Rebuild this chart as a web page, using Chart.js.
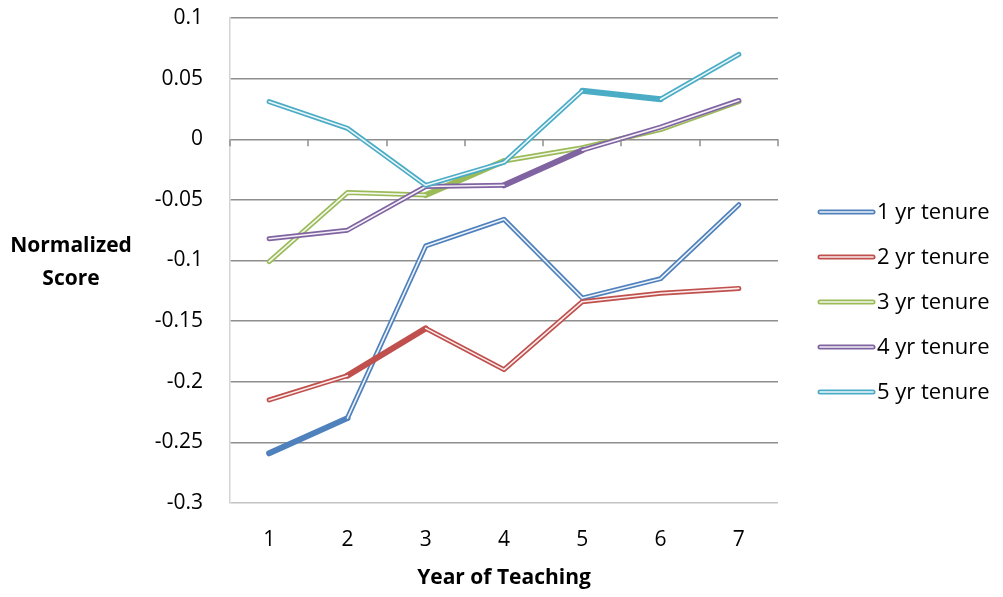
<!DOCTYPE html>
<html>
<head>
<meta charset="utf-8">
<script src="https://cdn.jsdelivr.net/npm/chart.js@4.4.0/dist/chart.umd.min.js"></script>
<style>
  html, body { margin: 0; padding: 0; background: #fff; }
  #wrap { width: 1003px; height: 597px; }
</style>
</head>
<body>
<div id="wrap"><canvas id="myTenureChart" width="1003" height="597"></canvas></div>
<script>
const years = ["1", "2", "3", "4", "5", "6", "7"];
const tenure1 = [-0.259, -0.230, -0.088, -0.066, -0.131, -0.115, -0.054];
const tenure2 = [-0.215, -0.195, -0.156, -0.190, -0.134, -0.127, -0.123];
const tenure3 = [-0.101, -0.044, -0.046, -0.018, -0.007, 0.008, 0.031];
const tenure4 = [-0.082, -0.075, -0.039, -0.038, -0.009, 0.010, 0.032];
const tenure5 = [0.031, 0.009, -0.038, -0.019, 0.040, 0.033, 0.070];
const seriesNames = ["1 yr tenure", "2 yr tenure", "3 yr tenure", "4 yr tenure", "5 yr tenure"];
// segment (starting index) drawn as a solid line instead of the double line
const solidSegment = [0, 1, 2, 3, 4];

const allSeries = [tenure1, tenure2, tenure3, tenure4, tenure5];
const colores = ["#4F81BD", "#C0504D", "#9BBB59", "#8064A2", "#4BACC6"];
const FONT = "'Open Sans', Lato, sans-serif";
const FSIZE = 21;

let datasets = [];
allSeries.forEach((datos, k) => {
  datasets.push({
    label: seriesNames[k],
    data: datos,
    borderColor: colores[k],
    borderWidth: 5,
    pointRadius: 0,
    tension: 0,
    borderCapStyle: "round",
    borderJoinStyle: "round",
    order: 100 - 2 * k,
    segment: {
      borderWidth: (c) => (c.p0DataIndex === solidSegment[k] ? 6 : 5),
    },
  });
  datasets.push({
    label: "_inner" + k,
    data: datos,
    borderColor: "rgba(255,255,255,0.9)",
    borderWidth: 1.6,
    pointRadius: 0,
    tension: 0,
    borderCapStyle: "round",
    borderJoinStyle: "round",
    order: 99 - 2 * k,
    segment: {
      borderColor: (c) => (c.p0DataIndex === solidSegment[k] ? "rgba(0,0,0,0)" : "rgba(255,255,255,0.9)"),
    },
  });
});

const extras = {
  id: "extras",
  afterDraw(chart) {
    const ctx = chart.ctx;
    const x = chart.scales.x;
    const y = chart.scales.y;
    const y0 = y.getPixelForValue(0);
    const step = x.getPixelForValue(1) - x.getPixelForValue(0);
    ctx.save();
    // tick marks on the zero line
    ctx.strokeStyle = "#8e8e8e";
    ctx.lineWidth = 1.5;
    for (let i = 0; i <= years.length; i++) {
      const px = Math.round(x.getPixelForValue(0) - step / 2 + i * step);
      ctx.beginPath();
      ctx.moveTo(px, y0);
      ctx.lineTo(px, y0 + 7);
      ctx.stroke();
    }
    // y title (horizontal, two lines)
    ctx.fillStyle = "#000";
    ctx.font = "bold " + FSIZE + "px " + FONT;
    ctx.textAlign = "center";
    ctx.textBaseline = "middle";
    ctx.fillText("Normalized", 71, 246);
    ctx.fillText("Score", 71, 279);
    // legend
    ctx.textAlign = "left";
    ctx.font = "22px " + FONT;
    seriesNames.forEach((name, k) => {
      const ly = 212 + k * 45;
      ctx.lineCap = "round";
      ctx.strokeStyle = colores[k];
      ctx.lineWidth = 5;
      ctx.beginPath();
      ctx.moveTo(820, ly);
      ctx.lineTo(873, ly);
      ctx.stroke();
      ctx.strokeStyle = "rgba(255,255,255,0.9)";
      ctx.lineWidth = 1.6;
      ctx.beginPath();
      ctx.moveTo(820, ly);
      ctx.lineTo(873, ly);
      ctx.stroke();
      ctx.fillStyle = "#000";
      ctx.fillText(name, 877, ly + 1);
    });
    ctx.restore();
  },
};

const myTenureChart = new Chart(document.getElementById("myTenureChart").getContext("2d"), {
  type: "line",
  data: { labels: years, datasets: datasets },
  plugins: [extras],
  options: {
    responsive: false,
    animation: false,
    layout: { padding: { top: 18, right: 225, bottom: 0, left: 0 } },
    plugins: {
      legend: { display: false },
      tooltip: { enabled: false },
    },
    scales: {
      x: {
        offset: true,
        grid: { display: false },
        border: { display: false },
        ticks: { color: "#000", font: { size: FSIZE, family: FONT }, padding: 16 },
        title: {
          display: true,
          text: "Year of Teaching",
          color: "#000",
          font: { size: FSIZE, weight: "bold", family: FONT },
          padding: { top: 0, bottom: 6 },
        },
        afterFit: (s) => { s.height = 94; s.paddingLeft = 0; s.paddingRight = 0; },
      },
      y: {
        min: -0.3,
        max: 0.1,
        grid: {
          color: (c) => (c.tick && c.tick.value <= -0.3 ? "#c4c4c4" : "#8e8e8e"),
          lineWidth: 1.5,
          drawTicks: false,
        },
        border: { display: true, color: "#d4d4d4", width: 1.5 },
        ticks: {
          stepSize: 0.05,
          color: "#000",
          font: { size: FSIZE, family: FONT },
          padding: 27,
          callback: (v) => String(Number(v.toFixed(2))),
        },
        afterFit: (s) => { s.width = 230; s.paddingTop = 0; s.paddingBottom = 0; },
      },
    },
  },
});
</script>
</body>
</html>
